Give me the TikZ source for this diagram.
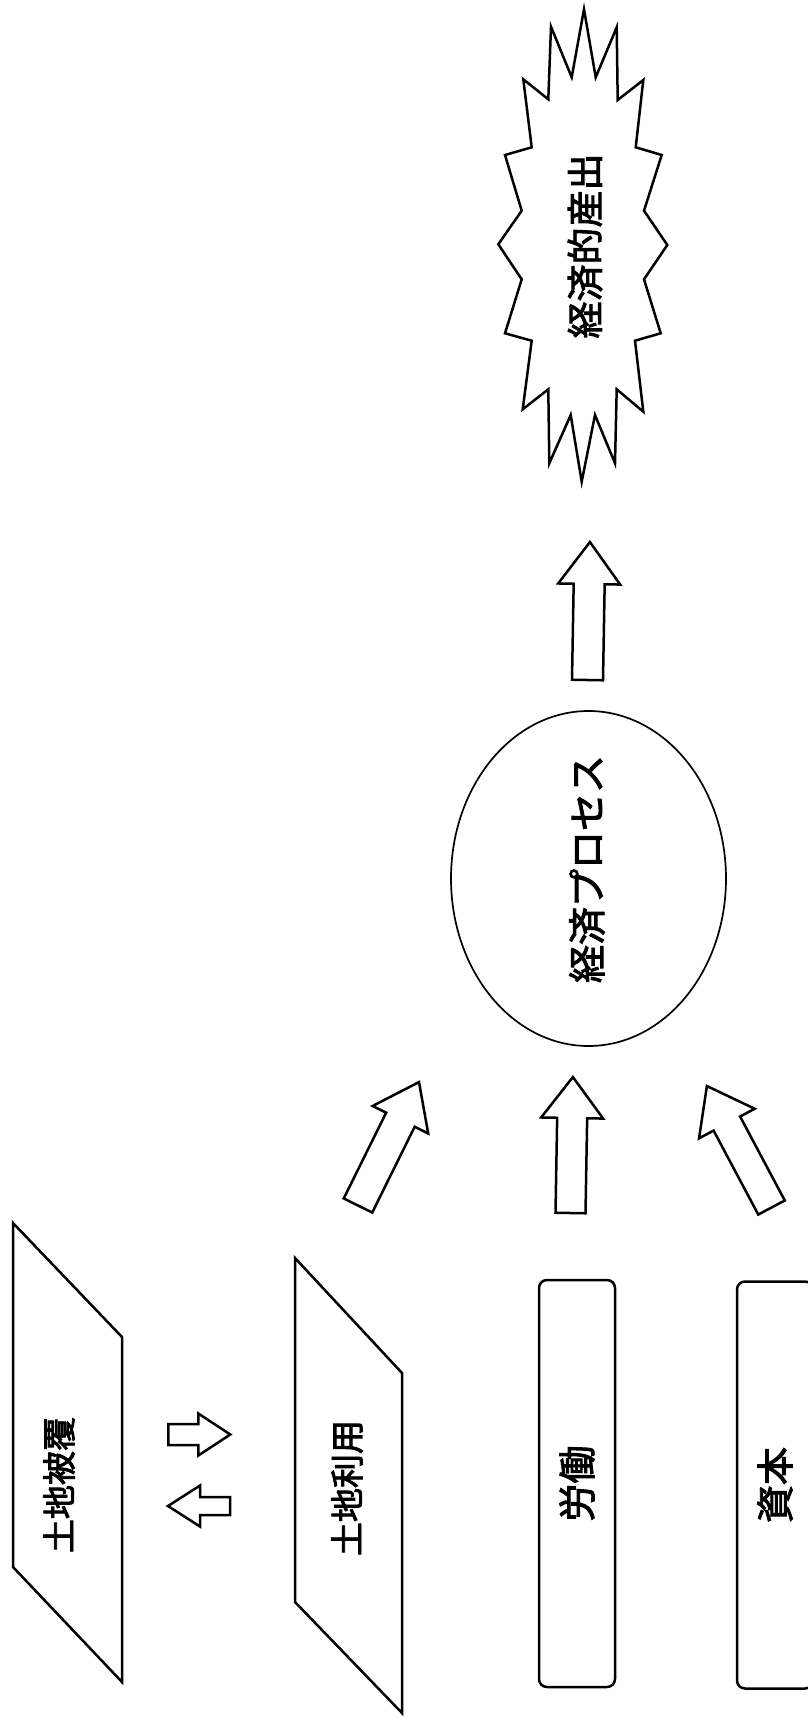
\documentclass[tikz,border=0pt]{standalone}
\usepackage{fontspec}
\newfontfamily\jp{Noto Sans CJK JP}[FakeBold=2.5]
\usetikzlibrary{shapes.geometric}

% block arrow: name, base centre, rotation, length, shaft half width, head half width, head length
\newcommand{\fatarrow}[7]{%
  \draw[outline, shift={#2}, rotate=#3]
    (-#5,0) -- (-#5,#7-#4) -- (-#6,#7-#4) -- (0,-#4) coordinate (#1)
    -- (#6,#7-#4) -- (#5,#7-#4) -- (#5,0) -- cycle;}

\begin{document}
\begin{tikzpicture}[x=1pt,y=-1pt,line join=miter,
  outline/.style={draw=black,line width=2.5pt,fill=white},
  vlabel/.style={rotate=90,inner sep=0pt,font=\jp\fontsize{#1}{#1}\selectfont},
  vlabel/.default=34,
  factorbox/.style={draw=black,line width=2.5pt,rounded corners=8pt,rotate=90,
    minimum width=407pt,minimum height=76pt,inner sep=0pt,
    font=\jp\fontsize{38}{38}\selectfont}]
\useasboundingbox (0,0) rectangle (807,1718);

% land cover / land use planes
\draw[outline] (13,1223) -- (122,1337) -- (122,1682) -- (13,1567) -- cycle;
\node[vlabel] (cover) at (59,1485) {土地被覆};
\draw[outline] (295,1258) -- (402,1373) -- (402,1713) -- (295,1602) -- cycle;
\node[vlabel] (use) at (347,1488) {土地利用};

% two-way exchange between cover and use
\fatarrow{toUse}{(168.3,1434.5)}{-90}{62}{10.5}{21}{32}
\fatarrow{toCover}{(230,1506)}{90}{62}{9}{20.5}{32}

% production factors
\node[factorbox] (labour) at (577,1483.5) {労働};
\node[factorbox] (capital) at (775,1485) {資本};

% economic process
\node[ellipse,draw=black,line width=1.7pt,minimum width=275pt,minimum height=335pt,inner sep=0pt]
  (process) at (588.5,878.5) {};
\node[vlabel=38] (processtext) at (587,869) {経済プロセス};

% inputs into the process
\fatarrow{inUse}{(358,1205.5)}{-26.3}{137.7}{15.9}{31}{42}
\fatarrow{inLabour}{(570.5,1213)}{-1}{136}{15}{31}{41}
\fatarrow{inCapital}{(771.5,1207.5)}{28}{137.6}{15}{31.5}{42.5}

% process to output
\fatarrow{toOutput}{(587.5,680)}{-1}{138}{15.5}{31}{42}

% economic output burst
\draw[outline]
  (584,9.3) -- (571.7,77.3) -- (551,26.7) -- (548.3,99.3) -- (523.3,79.3)
  -- (531.7,147.3) -- (505,155) -- (521.7,210.7) -- (498.3,244.3)
  -- (521.7,279.3) -- (505,333.3) -- (531.7,340.7) -- (522.7,409.3)
  -- (548.3,389.3) -- (549.3,463.3) -- (570.7,415) -- (581.7,481.7)
  -- (595,415) -- (615,463.3) -- (616.7,389.3) -- (643.3,411.7)
  -- (635,340.7) -- (660.7,333.3) -- (644,279.3) -- (667.3,245)
  -- (644,210.7) -- (661.7,155) -- (635.7,147.3) -- (643.3,80)
  -- (617.7,100) -- (616.7,27.3) -- (595.7,77.3) -- cycle;
\node[vlabel=37] (output) at (585,246) {経済的産出};
\end{tikzpicture}
\end{document}
